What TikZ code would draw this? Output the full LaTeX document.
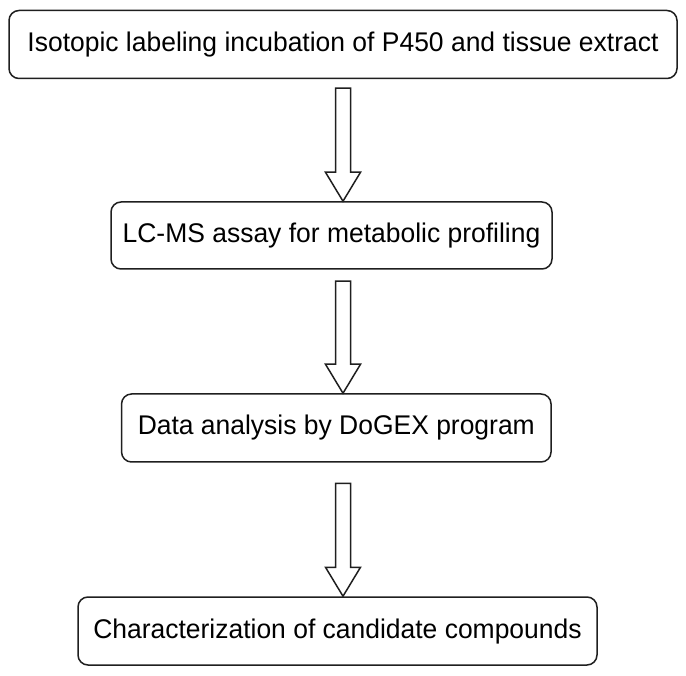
\documentclass[tikz,border=0pt]{standalone}
\usepackage{fontspec}
\setmainfont{Liberation Sans}[FakeStretch=0.98]
\usetikzlibrary{calc}
\tikzset{
  stepbox/.style={draw=black!88, line width=1.5pt, rounded corners=10pt, fill=white,
    inner sep=0pt, text height=20pt, text depth=6pt, align=center,
    font=\fontsize{27}{32}\selectfont},
  hollowarrow/.style={draw=black!88, line width=1.5pt, fill=white, line join=miter}
}
\newcommand{\blockarrow}[2]{%
  \draw[hollowarrow, shift={(#1)}] (-7.5,-#2) -- (7.5,-#2) -- (7.5,-29) -- (17.5,-29)
    -- (0,0) -- (-17.5,-29) -- (-7.5,-29) -- cycle;}
\begin{document}
\begin{tikzpicture}[x=1pt,y=-1pt]
\useasboundingbox (0,0) rectangle (686,676);
\node[stepbox, minimum width=668pt, minimum height=68pt] (b1) at (343,44.5)
  {Isotopic labeling incubation of P450 and tissue extract};
\node[stepbox, minimum width=441pt, minimum height=67pt] (b2) at (331.5,235.5)
  {LC-MS assay for metabolic profiling};
\node[stepbox, minimum width=429.5pt, minimum height=68pt] (b3) at (336.3,428)
  {Data analysis by DoGEX program};
\node[stepbox, minimum width=519pt, minimum height=68pt] (b4) at (337.5,631)
  {Characterization of candidate compounds};
\coordinate (t1) at (343,0 |- b2.north);
\coordinate (t2) at (343,0 |- b3.north);
\coordinate (t3) at (343,0 |- b4.north);
\blockarrow{t1}{113}
\blockarrow{t2}{112}
\blockarrow{t3}{113}
\end{tikzpicture}
\end{document}
